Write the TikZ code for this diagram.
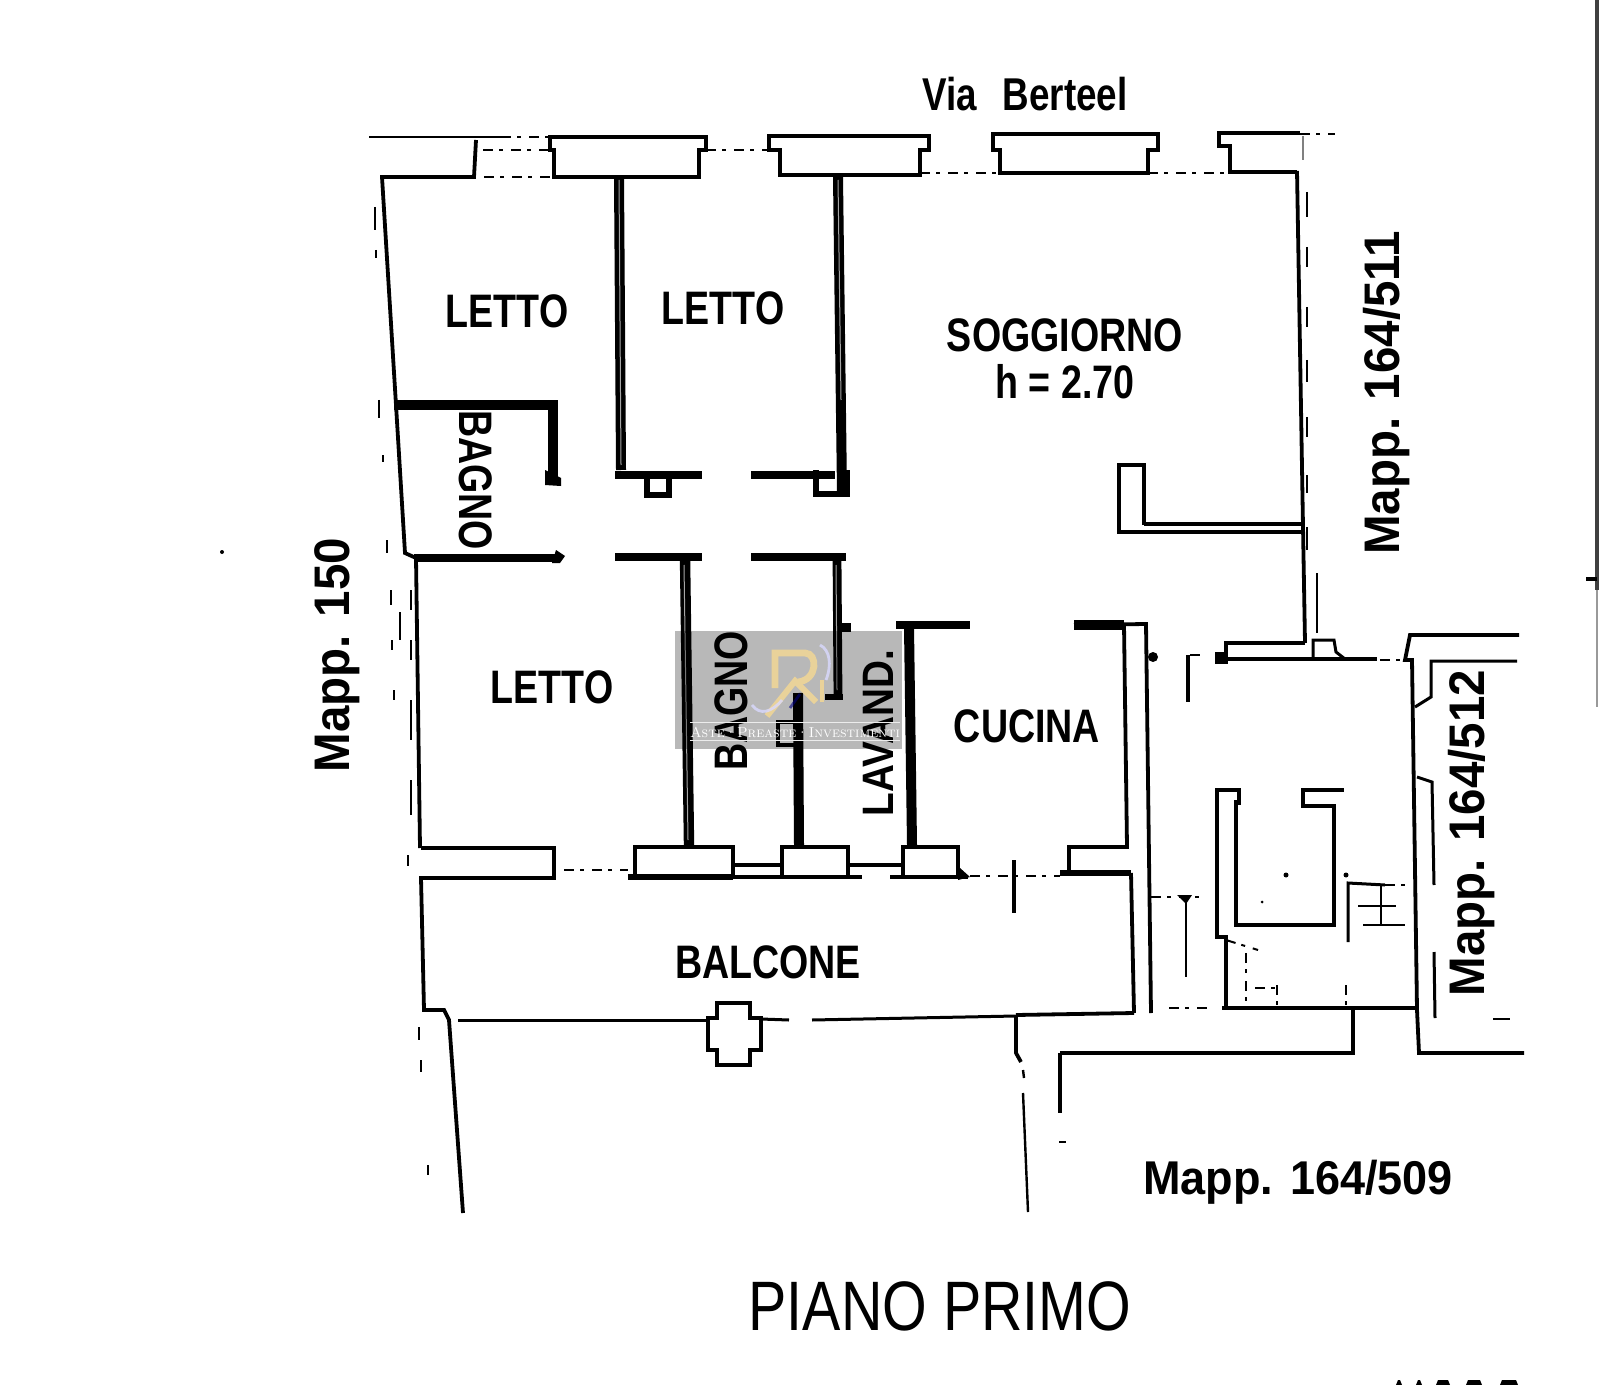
\documentclass[tikz,border=0pt]{standalone}
\usepackage{fontspec}
\usepackage{graphicx}
\newfontfamily\labA[FakeStretch=0.80]{Liberation Sans}
\newfontfamily\labB[FakeStretch=0.95]{Liberation Sans}
\newfontfamily\labC[FakeStretch=0.82]{Liberation Sans}
\newfontfamily\labD[FakeStretch=0.88]{Liberation Sans}
\definecolor{gold}{HTML}{E9D29A}
\tikzset{
  wall/.style={line width=1.9pt,line join=miter,line cap=butt},
  hwall/.style={line width=5.6pt,line join=miter,line cap=butt},
  mwall/.style={line width=3.2pt,line join=miter},
  thinw/.style={line width=1.2pt},
  speck/.style={line width=1.4pt,dash pattern=on 5pt off 3pt on 2pt off 4pt},
  inner/.style={line width=.5pt,gray!70},
  lbl/.style={inner sep=0pt,font=\labA\bfseries\fontsize{23.5}{24}\selectfont},
  mapp/.style={inner sep=0pt,font=\labB\bfseries\fontsize{25}{26}\selectfont},
}
\begin{document}
\begin{tikzpicture}[x=0.5pt,y=-0.5pt]
\useasboundingbox (0,0) rectangle (1600,1385);
\fill[white] (0,0) rectangle (1600,1385);

% top facade
\draw[thinw] (369,137)--(501,137);
\draw[speck] (501,137)--(548,137);
\draw[speck] (483,150)--(550,150);
\draw[speck] (484,177)--(552,177);
\draw[wall] (382,179)--(382,177)--(474,177)--(476,140);
\draw[wall] (554,177)--(554,150)--(550,150)--(550,137)--(706,137)--(706,150)--(699,150)--(699,177)--cycle;
\draw[speck] (706,150)--(769,150);
\draw[wall] (780,175)--(780,150)--(769,150)--(769,136)--(929,136)--(929,150)--(920,150)--(920,175)--cycle;
\draw[speck] (920,173)--(1000,173);
\draw[wall] (1000,173)--(1000,150)--(993,150)--(993,134)--(1158,134)--(1158,150)--(1148,150)--(1148,173)--cycle;
\draw[speck] (1148,173)--(1230,173);
\draw[wall] (1297,172)--(1230,172)--(1230,146)--(1219,146)--(1219,133)--(1300,133);
\draw[speck] (1300,134)--(1335,134);
\draw[thinw,gray] (1303,136)--(1303,160);
% right wall of soggiorno
\draw[wall] (1297,171)--(1303,527)--(1305,643);
\foreach \a/\b in {192/217,247/267,307/327,360/382,417/437,475/493,527/550}
  \draw[thinw] (1307,\a)--(1307,\b);
\draw[thinw] (1317,573)--(1317,633);
% soggiorno nib
\draw[mwall,line width=2.2pt] (1144,525)--(1144,465)--(1119,465)--(1119,532)--(1303,532);
\draw[mwall,line width=2.2pt] (1144,524)--(1303,524);

% left wall upper
\draw[wall] (382,177)--(396,405)--(405,553)--(416,558);
\foreach \a/\b/\c in {375/207/230,376/250/258,379/400/418,383/455/462,387/540/553,391/590/605,392/640/650,394/690/700}
  \draw[thinw] (\a,\b)--(\a,\c);
% bagno
\draw[hwall,line width=4.6pt] (394,405)--(553,405)--(553,483);
\fill (545,470)--(561,478)--(561,486)--(545,485)--cycle;
\draw[hwall,line width=4.2pt] (414,558)--(560,558);
\fill (556,550)--(565,556)--(560,563)--(552,563)--cycle;

% bedroom walls
\draw[hwall,line width=5pt] (619,177)--(621,470);
\draw[inner] (619,180)--(621,465);
\draw[hwall,line width=5pt] (838,177)--(842,493);
\draw[inner] (838,180)--(841,400);
\draw[hwall,line width=4.4pt] (615,475)--(702,475);
\draw[mwall,line width=2.6pt] (647,478)--(647,495)--(669,495)--(669,478);
\draw[hwall,line width=4.4pt] (751,475)--(835,475);
\draw[mwall,line width=2.6pt] (816,470)--(816,494)--(847,494)--(847,470);
\draw[hwall,line width=4.2pt] (615,557)--(702,557);
\draw[hwall,line width=4.2pt] (751,557)--(846,557);

% lower interior walls
\draw[hwall,line width=5.2pt] (685,557)--(689,845);
\draw[inner] (684,565)--(688,840);
\draw[hwall,line width=4.4pt] (837,557)--(838,697);
\draw[inner] (836,565)--(837,690);
\fill (842,623) rectangle (851,632);
\draw[mwall] (825,697)--(843,697);
\draw[hwall,line width=5pt] (798,693)--(799,845);
\draw[wall] (798,722)--(778,722)--(778,745)--(798,745);
\draw[hwall,line width=5pt] (909,627)--(912,845);
\draw[hwall,line width=3.6pt] (896,625)--(970,625);
\draw[wall] (1074,625)--(1146,624)--(1151,1013);
\fill (1074,620) rectangle (1124,630);
\draw[wall] (1124,625)--(1127,847)--(1069,847)--(1069,873);
\fill (1153,657) circle[radius=5];

% balcony level
\draw[wall] (421,848)--(554,848)--(554,878)--(421,878)--(424,1010)--(444,1010)--(449,1020)--(463,1213);
\draw[wall] (416,558)--(420,848);
\foreach \b/\c in {590/610,640/660,700/740,780/815}
  \draw[thinw] (411,\b)--(411,\c);
\foreach \a/\b/\c in {400/612/640,408/855/866,419/1027/1040,421/1060/1072,428/1165/1175}
  \draw[thinw] (\a,\b)--(\a,\c);
\draw[speck] (564,870)--(628,870);
\draw[wall] (635,877)--(635,847)--(733,847)--(733,877);
\draw[wall] (782,877)--(782,847)--(848,847)--(848,877);
\draw[wall] (903,877)--(903,847)--(958,847)--(958,877);
\draw[wall] (733,865)--(782,865);
\draw[wall] (848,865)--(903,865);
\draw[mwall] (628,877)--(733,877);
\draw[wall] (733,877)--(862,877);
\draw[wall] (890,877)--(968,877);
\fill (960,868)--(970,877)--(958,880)--cycle;
\draw[speck] (970,876)--(1060,876);
\draw[wall] (1014,860)--(1014,913);
\draw[mwall] (1060,873)--(1131,873);
\draw[wall] (1131,873)--(1134,1013);
\draw[wall] (1134,1013)--(1016,1015);
\draw[wall,line width=1.5pt] (1016,1016)--(812,1020);
\draw[wall,line width=1.5pt] (789,1020)--(761,1019);
\draw[wall,line width=1.5pt] (708,1020)--(458,1020);
\draw[wall] (717,1018)--(717,1003)--(750,1003)--(750,1018)--(761,1018)--(761,1050)--(750,1050)--(750,1065)--(717,1065)--(717,1050)--(708,1050)--(708,1018)--cycle;
\draw[wall] (1016,1015)--(1016,1053)--(1021,1062);
\draw[thinw] (1023,1070)--(1024,1078);
\draw[thinw] (1023,1093)--(1028,1212);

% service block / stairs
\draw[wall] (1060,1053)--(1353,1053)--(1353,1008);
\draw[wall] (1060,1053)--(1060,1113);
\draw[thinw] (1059,1142)--(1066,1142);
\draw[speck] (1169,1008)--(1208,1008);
\draw[wall] (1222,1008)--(1415,1008);
\draw[wall] (1188,655)--(1188,702);
\draw[speck] (1190,655)--(1205,655);
\draw[mwall,line width=2.4pt] (1305,643)--(1226,643)--(1226,659)--(1305,659);
\fill (1215,652) rectangle (1228,664);
\draw[mwall,line width=2.4pt] (1215,659)--(1377,659);
\draw[speck] (1380,660)--(1405,660);
\draw[wall,line width=1.5pt] (1313,659)--(1313,640)--(1334,640)--(1336,652)--(1345,659);
% right side
\draw[wall] (1519,635)--(1410,635)--(1405,660)--(1412,660)--(1417,1010)--(1419,1053)--(1524,1053);
\draw[wall,line width=1.5pt] (1517,661)--(1431,661)--(1431,697)--(1415,707);
\draw[wall,line width=1.5pt] (1417,777)--(1432,782)--(1434,885);
\draw[wall,line width=1.5pt] (1434,952)--(1435,1018);
\draw[thinw] (1493,1019)--(1510,1019);
% central well
\draw[wall] (1239,805)--(1239,790)--(1217,790)--(1217,937)--(1226,937)--(1226,1008);
\draw[wall] (1236,800)--(1236,925)--(1334,925)--(1334,806)--(1303,806)--(1303,790)--(1344,790);
\draw[speck,line width=1pt] (1226,940)--(1258,950);
\draw[speck] (1246,953)--(1246,1003);
\draw[speck] (1277,985)--(1277,1008);
\draw[speck,line width=1pt] (1255,988)--(1278,988);
\draw[speck] (1346,985)--(1346,1008);
\fill (1286,875) circle[radius=2.5];
\fill (1346,875) circle[radius=2.5];
\fill (1262,902) circle[radius=1.5];
% stairs
\draw[wall,line width=1.5pt] (1348,942)--(1348,883)--(1385,885);
\draw[speck,line width=1pt] (1385,885)--(1412,885);
\draw[thinw] (1381,885)--(1381,925);
\draw[thinw] (1358,906)--(1396,906);
\draw[thinw] (1363,925)--(1405,925);
% left-hand well ticks
\draw[speck,line width=1pt] (1151,897)--(1205,897);
\draw[wall,line width=1.4pt] (1186,898)--(1186,977);
\fill (1177,895)--(1192,895)--(1186,904)--cycle;

% far right edge
\draw[line width=1.6pt,black!75] (1597,0)--(1597,590);
\draw[line width=1pt,black!40] (1597,590)--(1597,707);
\draw[line width=2pt] (1586,579)--(1597,579);
\fill (222,552) circle[radius=2];

% clipped bottom marks
\foreach \a/\b in {1396/1402,1416/1422,1436/1450,1466/1482,1500/1518}
  \fill (\a,1385)--(\a+2,1380)--(\b-2,1380)--(\b,1385)--cycle;

% labels
\node[inner sep=0pt,font=\labA\bfseries\fontsize{23}{23}\selectfont] (via) at (1025,94) {Via\hspace{13pt}Berteel};
\node[lbl] (l1) at (507,311) {LETTO};
\node[lbl] (l2) at (723,308) {LETTO};
\node[lbl] (l3) at (552,687) {LETTO};
\node[lbl] (sog) at (1065,335) {SOGGIORNO};
\node[lbl] (h) at (1065,382) {h = 2.70};
\node[lbl,rotate=-90] (b1) at (476,480) {BAGNO};
\node[lbl,rotate=90] (b2) at (731,701) {BAGNO};
\node[lbl,rotate=90,font=\labD\bfseries\fontsize{22}{23}\selectfont] (lav) at (878,733) {LAVAND.};
\node[lbl] (cuc) at (1027,726) {CUCINA};
\node[lbl] (bal) at (768,962) {BALCONE};
\node[mapp,rotate=90] (m150) at (337,655) {Mapp. 150};
\node[mapp,rotate=90] (m511) at (1387,393) {Mapp. 164/511};
\node[mapp,rotate=90] (m512) at (1472,833) {Mapp. 164/512};
\node[mapp,font=\labB\bfseries\fontsize{23.7}{24}\selectfont] (m509) at (1298,1182) {Mapp. 164/509};
\node[inner sep=0pt,font=\labC\fontsize{35}{36}\selectfont] (pp) at (940,1306) {PIANO PRIMO};

% watermark
\fill[black,opacity=.28] (675,631) rectangle (902,749);
\draw[gold,line width=3.4pt] (775,688)--(775,653)--(805,653) .. controls (818,653) and (818,680) .. (798,682);
\draw[gold,line width=3pt] (767,716)--(795,681)--(816,702);
\draw[gold,line width=2.4pt] (822,680)--(822,702);
\draw[white!85!blue,line width=1.4pt,opacity=.8] (752,705) .. controls (760,716) and (772,712) .. (782,700);
\draw[white!85!blue,line width=1.4pt,opacity=.8] (820,645) .. controls (830,650) and (832,665) .. (826,680);
\draw[blue!50!black,line width=1.4pt,opacity=.6] (790,708) -- (800,694);
\draw[gray!15,line width=.3pt] (690,722)--(900,722);
\draw[gray!15,line width=.3pt] (690,740)--(900,740);
\node[inner sep=0pt,text=white] (wm) at (795,732) {\resizebox{105pt}{!}{\textsc{Aste·Preaste·Investimenti}}};
\end{tikzpicture}
\end{document}
